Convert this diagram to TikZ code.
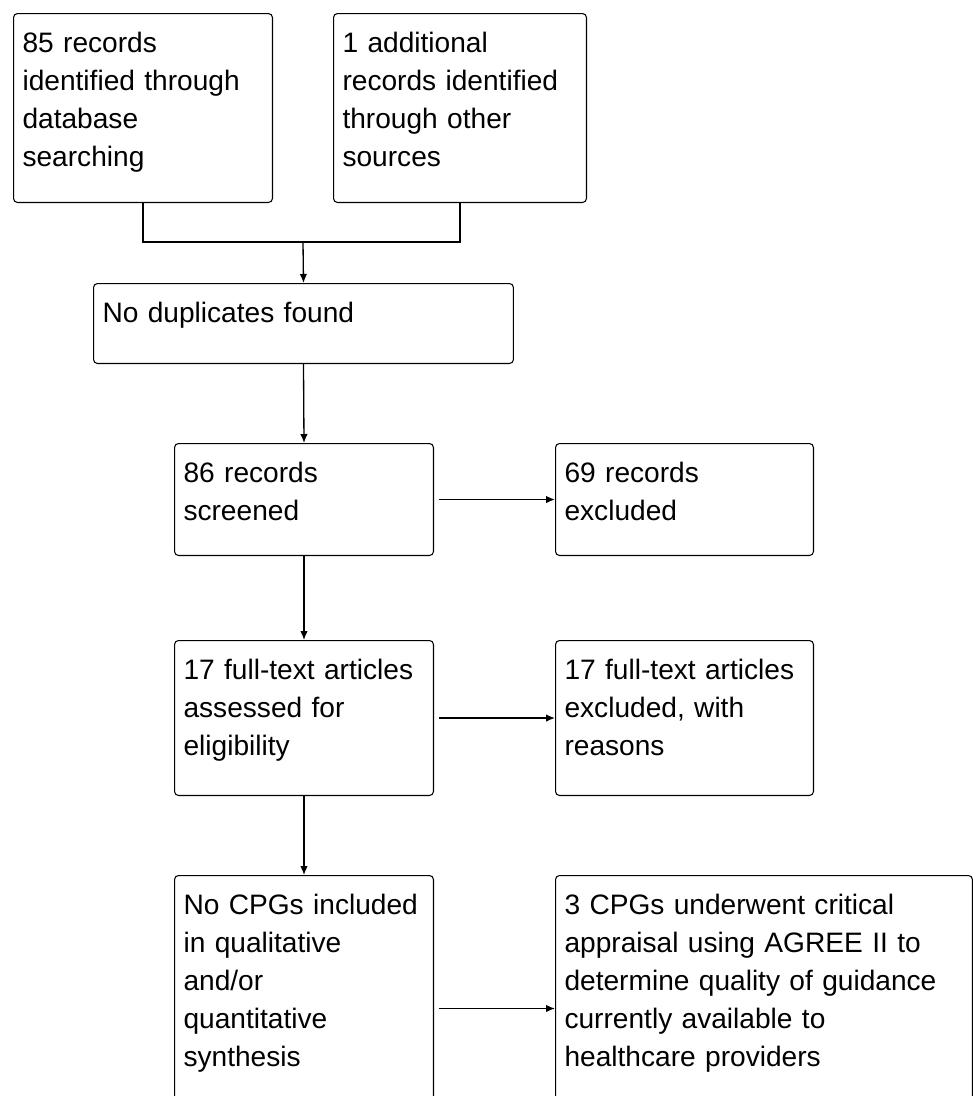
\documentclass[tikz,border=0pt]{standalone}
\usepackage{fontspec}
\setmainfont{Liberation Sans}
\usetikzlibrary{arrows.meta, positioning}

\begin{document}
\begin{tikzpicture}[
    x=0.02cm, y=-0.02cm,
    box/.style={rectangle, draw=black, rounded corners=0.08cm, line width=0.6pt,
      anchor=north west, align=left, inner xsep=0.18cm, inner ysep=0pt,
      text height=0.78cm, font=\fontsize{16pt}{21.6pt}\selectfont},
    arrow/.style={-{Latex[length=0.18cm,width=0.15cm]}, line width=0.75pt}
  ]
    \clip (0,0) rectangle (973,1096);

    % identification
    \node[box, text width=4.82cm, text depth=3.0cm] (dbrec) at (13,13) {
      85 records \\
      identified through \\
      database \\
      searching
    };
    \node[box, text width=4.70cm, text depth=3.0cm] (otherrec) at (333,13) {
      1 additional \\
      records identified \\
      through other \\
      sources
    };
    \node[box, text width=8.04cm, text depth=0.82cm] (dupl) at (93,283) {
      No duplicates found
    };

    % screening
    \node[box, text width=4.82cm, text depth=1.46cm] (screened) at (174,443) {
      86 records \\
      screened
    };
    \node[box, text width=4.80cm, text depth=1.46cm] (excluded) at (555,443) {
      69 records \\
      excluded
    };

    % eligibility
    \node[box, text width=4.82cm, text depth=2.32cm] (fulltext) at (174,640) {
      17 full-text articles \\
      assessed for \\
      eligibility
    };
    \node[box, text width=4.80cm, text depth=2.32cm] (ftexcl) at (555,640) {
      17 full-text articles \\
      excluded, with \\
      reasons
    };

    % included
    \node[box, text width=4.82cm, text depth=4.54cm] (included) at (174,875) {
      No CPGs included \\
      in qualitative \\
      and/or \\
      quantitative \\
      synthesis
    };
    \node[box, text width=7.98cm, text depth=4.54cm] (appraisal) at (555,875) {
      3 CPGs underwent critical \\
      appraisal using AGREE II to \\
      determine quality of guidance \\
      currently available to \\
      healthcare providers
    };

    % connectors
    \coordinate (merge) at (303,242);
    \draw[line width=0.75pt] (dbrec.south) |- (merge) -| (otherrec.south);
    \draw[arrow] (merge) -- (dupl.north);
    \draw[arrow] (dupl.south) -- (screened.north);
    \draw[arrow, shorten <=3pt] (screened.east) -- (excluded.west);
    \draw[arrow] (screened.south) -- (fulltext.north);
    \draw[arrow, shorten <=3pt] (fulltext.east) -- (ftexcl.west);
    \draw[arrow] (fulltext.south) -- (included.north);
    \draw[arrow, shorten <=3pt] (included.east) -- (appraisal.west);
  \end{tikzpicture}
\end{document}
